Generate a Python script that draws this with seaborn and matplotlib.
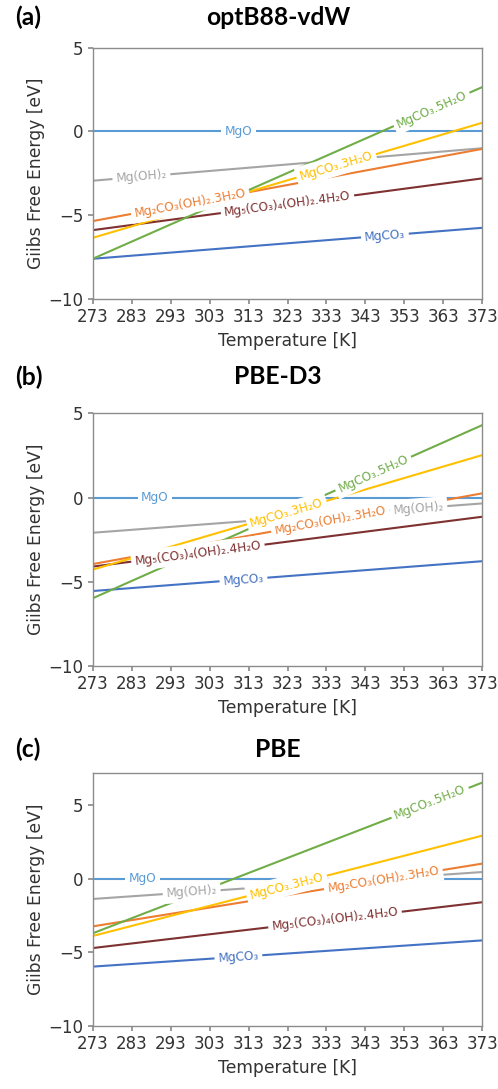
import numpy as np
import pandas as pd
import matplotlib
matplotlib.use("Agg")
import matplotlib.pyplot as plt
import seaborn as sns

# Temperature range (K) and ticks
temps = [273, 373]
xticks = list(range(273, 374, 10))

phases = ["MgO", "MgCO₃", "Mg(OH)₂", "Mg₂CO₃(OH)₂.3H₂O",
          "Mg₅(CO₃)₄(OH)₂.4H₂O", "MgCO₃.3H₂O", "MgCO₃.5H₂O"]

colors = ["#5B9BD5", "#4472C4", "#A5A5A5", "#ED7D31",
          "#7F3030", "#FFC000", "#70AD47"]

# Gibbs free energy (eV) at 273 K and 373 K for each phase
g_optb88 = {
    "MgO": [0.0, 0.0],
    "MgCO₃": [-7.6, -5.75],
    "Mg(OH)₂": [-2.94, -1.0],
    "Mg₂CO₃(OH)₂.3H₂O": [-5.35, -1.04],
    "Mg₅(CO₃)₄(OH)₂.4H₂O": [-5.89, -2.8],
    "MgCO₃.3H₂O": [-6.35, 0.52],
    "MgCO₃.5H₂O": [-7.6, 2.65],
}
g_pbed3 = {
    "MgO": [0.0, 0.0],
    "MgCO₃": [-5.55, -3.78],
    "Mg(OH)₂": [-2.09, -0.35],
    "Mg₂CO₃(OH)₂.3H₂O": [-3.95, 0.25],
    "Mg₅(CO₃)₄(OH)₂.4H₂O": [-4.1, -1.14],
    "MgCO₃.3H₂O": [-4.28, 2.52],
    "MgCO₃.5H₂O": [-5.98, 4.3],
}
g_pbe = {
    "MgO": [0.0, 0.0],
    "MgCO₃": [-5.97, -4.19],
    "Mg(OH)₂": [-1.38, 0.45],
    "Mg₂CO₃(OH)₂.3H₂O": [-3.24, 1.02],
    "Mg₅(CO₃)₄(OH)₂.4H₂O": [-4.71, -1.6],
    "MgCO₃.3H₂O": [-3.89, 2.92],
    "MgCO₃.5H₂O": [-3.71, 6.52],
}

# Temperatures at which the inline labels sit
lab_optb88 = {"Mg(OH)₂": 285.5, "Mg₂CO₃(OH)₂.3H₂O": 298, "MgO": 310.5,
              "Mg₅(CO₃)₄(OH)₂.4H₂O": 323, "MgCO₃.3H₂O": 335.5,
              "MgCO₃": 348, "MgCO₃.5H₂O": 360}
lab_pbed3 = {"MgO": 289, "Mg₅(CO₃)₄(OH)₂.4H₂O": 300, "MgCO₃": 311.7,
             "MgCO₃.3H₂O": 322.8, "Mg₂CO₃(OH)₂.3H₂O": 334,
             "MgCO₃.5H₂O": 345, "Mg(OH)₂": 356.6}
lab_pbe = {"MgO": 285.8, "Mg(OH)₂": 298.4, "MgCO₃": 310.4,
           "MgCO₃.3H₂O": 322.8, "Mg₅(CO₃)₄(OH)₂.4H₂O": 335.2,
           "Mg₂CO₃(OH)₂.3H₂O": 347.6, "MgCO₃.5H₂O": 359.6}

panels = [
    ("(a)", "optB88-vdW", g_optb88, lab_optb88, (-10, 5)),
    ("(b)", "PBE-D3", g_pbed3, lab_pbed3, (-10, 5)),
    ("(c)", "PBE", g_pbe, lab_pbe, (-10, 7.15)),
]

sns.set_theme(style="ticks", rc={
    "axes.edgecolor": "#8c8c8c",
    "axes.linewidth": 1.0,
    "xtick.color": "#8c8c8c",
    "ytick.color": "#8c8c8c",
    "xtick.labelcolor": "#333333",
    "ytick.labelcolor": "#333333",
    "axes.labelcolor": "#333333",
    "xtick.major.size": 3.5,
    "ytick.major.size": 3.5,
})
plt.rcParams["font.family"] = ["DejaVu Sans"]

W, H = 498, 1089
fig = plt.figure(figsize=(W / 100, H / 100), dpi=100)
palette = dict(zip(phases, colors))

# axes boxes in pixels: (left, top, right, bottom)
boxes = [(92.7, 47.7, 482.3, 299.0),
         (92.7, 413.3, 482.3, 666.0),
         (92.7, 773.3, 482.3, 1026.0)]
head_y = [17.5, 377.0, 749.5]

for (tag, title, gdict, labx, ylim), (l, t, r, b), hy in zip(panels, boxes, head_y):
    ax = fig.add_axes([l / W, 1 - b / H, (r - l) / W, (b - t) / H])
    df = pd.DataFrame([
        {"T": T, "G": g, "phase": p}
        for p in phases for T, g in zip(temps, gdict[p])
    ])
    sns.lineplot(data=df, x="T", y="G", hue="phase", hue_order=phases,
                 palette=palette, legend=False, linewidth=1.5, ax=ax)
    ax.set_xlim(273, 373)
    ax.set_ylim(*ylim)
    ax.set_xticks(xticks)
    ax.set_yticks([-10, -5, 0, 5])
    ax.tick_params(labelsize=12, pad=3)
    ax.set_xlabel("Temperature [K]", fontsize=12.3, labelpad=4)
    ax.set_ylabel("Giibs Free Energy [eV]", fontsize=12.3, labelpad=3)
    for s in ax.spines.values():
        s.set_visible(True)

    # inline labels along each line
    for p in phases:
        g0, g1 = gdict[p]
        x = labx[p]
        y = g0 + (g1 - g0) * (x - temps[0]) / (temps[1] - temps[0])
        ang = np.degrees(np.arctan2(g1 - g0, temps[1] - temps[0]))
        ax.text(x, y, p, color=palette[p], fontsize=8.7,
                rotation=ang, transform_rotates_text=True,
                rotation_mode="anchor", ha="center", va="center",
                bbox=dict(facecolor="white", edgecolor="none", pad=2.5),
                zorder=10)

    fig.text(15 / W, 1 - hy / H, tag, fontsize=17.7, fontweight="bold",
             family="Lato", ha="left", va="center", color="black")
    fig.text(278 / W, 1 - hy / H, title, fontsize=17.7, fontweight="bold",
             family="Lato", ha="center", va="center", color="black")

fig.savefig("out.png", dpi=100)
